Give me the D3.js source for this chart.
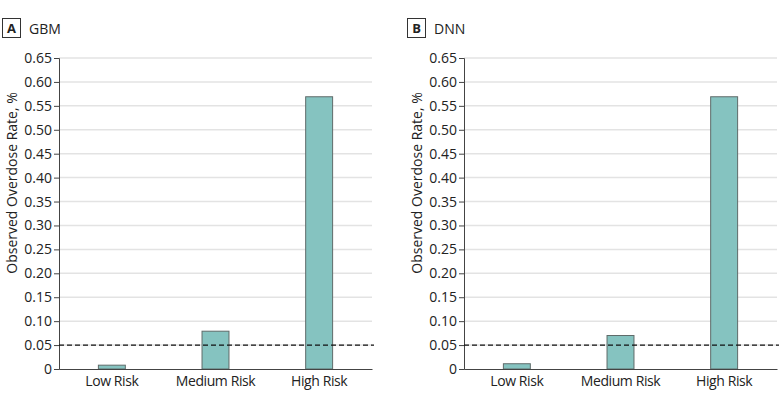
<!DOCTYPE html>
<html>
<head>
<meta charset="utf-8">
<script src="https://cdn.jsdelivr.net/npm/d3@7"></script>
<style>
  body { margin: 0; background: #fff; }
  text { font-family: "Open Sans", sans-serif; }
</style>
</head>
<body>
<div id="chart"></div>
<script>
const categories = ['Low Risk', 'Medium Risk', 'High Risk']
const gbmValues = [0.008, 0.079, 0.569]
const dnnValues = [0.011, 0.070, 0.569]
const yTicks = [0, 0.05, 0.1, 0.15, 0.2, 0.25, 0.3, 0.35, 0.4, 0.45, 0.5, 0.55, 0.6, 0.65]
const threshold = 0.05

const panels = [
  { letter: 'A', title: 'GBM', values: gbmValues, left: 0 },
  { letter: 'B', title: 'DNN', values: dnnValues, left: 405 },
]

const width = 780
const height = 405
const font = '"Open Sans", sans-serif'

const svg = d3
  .select('#chart')
  .append('svg')
  .attr('width', width)
  .attr('height', height)

const y = d3.scaleLinear().domain([0, 0.65]).range([369, 58])

panels.forEach((p) => {
  const g = svg.append('g').attr('transform', `translate(${p.left},0)`)
  const x = d3
    .scaleBand()
    .domain(categories)
    .range([59, 372])
    .paddingInner(0.74)
    .paddingOuter(0.38)

  // panel label
  g.append('rect')
    .attr('x', 2.5)
    .attr('y', 18.5)
    .attr('width', 18)
    .attr('height', 19)
    .attr('fill', '#fff')
    .attr('stroke', '#333')
  g.append('text')
    .attr('x', 11.5)
    .attr('y', 33)
    .attr('text-anchor', 'middle')
    .attr('font-size', 13)
    .attr('font-weight', 'bold')
    .attr('fill', '#222')
    .text(p.letter)
  g.append('text')
    .attr('x', 29)
    .attr('y', 33.5)
    .attr('font-size', 14)
    .attr('fill', '#222')
    .text(p.title)

  // gridlines
  g.append('g')
    .selectAll('line')
    .data(yTicks.filter((t) => t > 0))
    .enter()
    .append('line')
    .attr('x1', 59)
    .attr('x2', 372)
    .attr('y1', (d) => y(d))
    .attr('y2', (d) => y(d))
    .attr('stroke', '#e3e3e3')
    .attr('stroke-width', 1.5)

  // y axis
  const yAxis = g
    .append('g')
    .attr('transform', 'translate(59,0)')
    .call(
      d3
        .axisLeft(y)
        .tickValues(yTicks)
        .tickSize(5)
        .tickPadding(2)
        .tickFormat((d) => (d === 0 ? '0' : d3.format('.2f')(d)))
    )
    .attr('font-size', 14)
    .attr('font-family', font)
  yAxis.select('.domain').attr('stroke', '#444')
  yAxis.selectAll('.tick line').attr('stroke', '#444')
  yAxis.selectAll('.tick text').attr('fill', '#222')

  g.append('text')
    .attr('transform', 'translate(17,183) rotate(-90)')
    .attr('text-anchor', 'middle')
    .attr('font-size', 14)
    .attr('fill', '#222')
    .text('Observed Overdose Rate, %')

  // bars
  g.append('g')
    .selectAll('rect')
    .data(p.values)
    .enter()
    .append('rect')
    .attr('x', (d, i) => x(categories[i]))
    .attr('y', (d) => y(d))
    .attr('width', x.bandwidth())
    .attr('height', (d) => y(0) - y(d))
    .attr('fill', '#85c3c0')
    .attr('stroke', '#5f6b6a')
    .attr('stroke-width', 1)

  // x axis
  const xAxis = g
    .append('g')
    .attr('transform', `translate(0,${y(0)})`)
    .call(d3.axisBottom(x).tickSize(0).tickPadding(7))
    .attr('font-size', 14)
    .attr('font-family', font)
  xAxis.select('.domain').attr('stroke', '#444')
  xAxis
    .selectAll('.tick text')
    .attr('fill', '#222')
    .attr('letter-spacing', -0.4)

  // threshold line
  g.append('line')
    .attr('x1', 59)
    .attr('x2', 374)
    .attr('y1', y(threshold))
    .attr('y2', y(threshold))
    .attr('stroke', '#111')
    .attr('stroke-width', 1.2)
    .attr('stroke-dasharray', '5,3')
})
</script>
</body>
</html>
